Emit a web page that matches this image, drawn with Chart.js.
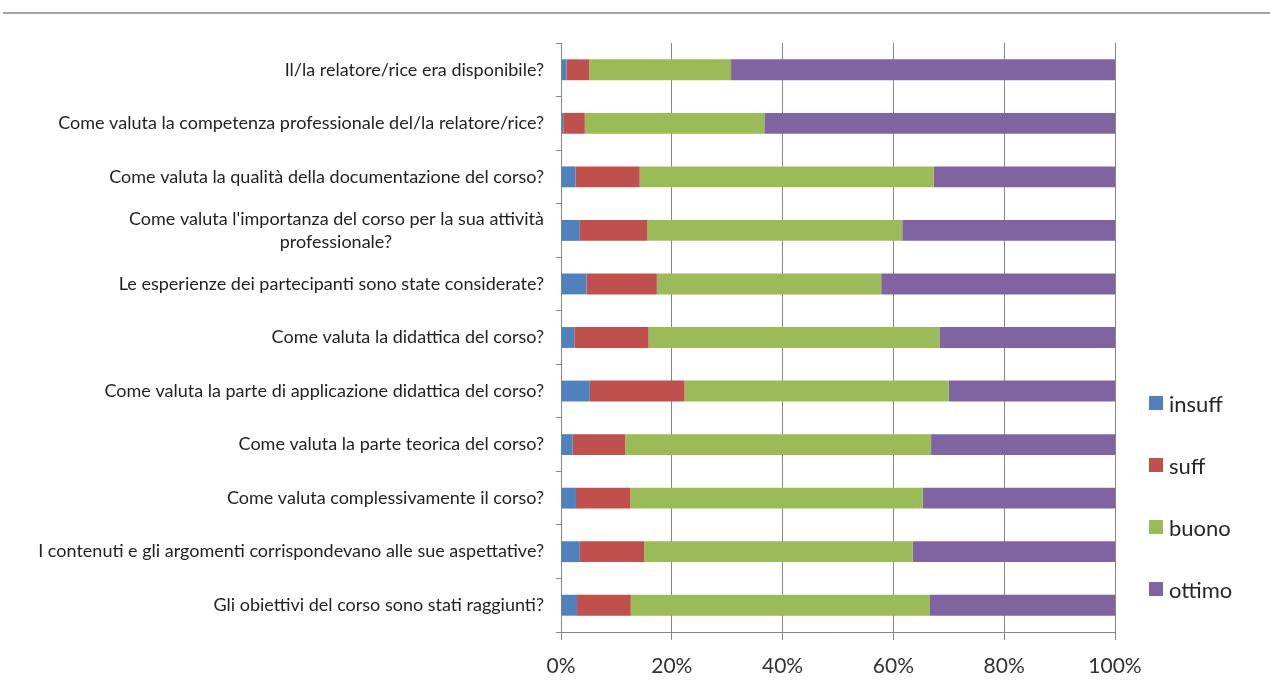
<!DOCTYPE html>
<html>
<head>
<meta charset="utf-8">
<script src="https://cdn.jsdelivr.net/npm/chart.js@4/dist/chart.umd.min.js"></script>
<style>
    html, body { margin: 0; padding: 0; background: #fff; }
    #wrap { position: relative; width: 1270px; height: 700px; overflow: hidden; }
    #topline { position: absolute; left: 3px; right: 0; top: 12px; height: 2px; background: #a6a6a6; }
    #legend { position: absolute; left: 1149px; top: 372px; font-family: Lato, sans-serif; font-size: 22px; color: #262626; }
    #legend .item { height: 62px; display: flex; align-items: center; }
    #legend .sw { width: 14px; height: 14px; margin-right: 6px; }
</style>
</head>
<body>
<div id="wrap">
    <div id="topline"></div>
    <canvas id="chart" width="1270" height="700"></canvas>
    <div id="legend"></div>
</div>
<script>
// Questions (top to bottom)
const questions = [
    "Il/la relatore/rice era disponibile?",
    "Come valuta la competenza professionale del/la relatore/rice?",
    "Come valuta la qualità della documentazione del corso?",
    ["Come valuta l'importanza del corso per la sua attività", "professionale?"],
    "Le esperienze dei partecipanti sono state considerate?",
    "Come valuta la didattica del corso?",
    "Come valuta la parte di applicazione didattica del corso?",
    "Come valuta la parte teorica del corso?",
    "Come valuta complessivamente il corso?",
    "I contenuti e gli argomenti corrispondevano alle sue aspettative?",
    "Gli obiettivi del corso sono stati raggiunti?"
];

// Percentages per rating
const insuff = [1.0, 0.4, 2.6, 3.4, 4.6, 2.4, 5.2, 2.1, 2.7, 3.4, 2.9];
const suff   = [4.1, 3.9, 11.6, 12.2, 12.7, 13.4, 17.1, 9.5, 9.8, 11.6, 9.7];
const buono  = [25.6, 32.4, 53.1, 46.0, 40.5, 52.5, 47.7, 55.2, 52.8, 48.5, 54.0];
const ottimo = [69.3, 63.3, 32.7, 38.4, 42.2, 31.7, 30.0, 33.2, 34.7, 36.5, 33.4];

const seriesNames = ['insuff', 'suff', 'buono', 'ottimo'];
const seriesColors = ['#4f81bd', '#c0504d', '#9bbb59', '#8064a2'];
const xTicks = [0, 20, 40, 60, 80, 100];

const labelFont = '18px Lato';
const gridColor = '#868686';

// centre the second line of a two-line label under the first (labels are right aligned)
function centreLines(label) {
    if (!Array.isArray(label)) return label;
    const ctx = document.createElement('canvas').getContext('2d');
    ctx.font = labelFont;
    const w1 = ctx.measureText(label[0]).width;
    let second = label[1];
    const sp = ctx.measureText('\u00a0').width;
    const n = Math.round((w1 - ctx.measureText(second).width) / 2 / sp);
    second = second + '\u00a0'.repeat(Math.max(0, n));
    return [label[0], second];
}

const datasets = [insuff, suff, buono, ottimo].map((vals, i) => ({
    label: seriesNames[i],
    data: vals,
    backgroundColor: seriesColors[i],
    borderWidth: 0,
    barPercentage: 0.39,
    categoryPercentage: 1.0
}));

new Chart(document.getElementById('chart').getContext('2d'), {
    type: 'bar',
    data: { labels: questions.map(centreLines), datasets },
    options: {
        indexAxis: 'y',
        responsive: false,
        animation: false,
        layout: { padding: { top: 43, right: 155, left: 0, bottom: 0 } },
        plugins: {
            legend: { display: false },
            tooltip: { enabled: false }
        },
        scales: {
            x: {
                stacked: true,
                min: 0,
                max: 100,
                afterBuildTicks: (scale) => { scale.ticks = xTicks.map(v => ({ value: v })); },
                afterFit: (scale) => { scale.height = 68; },
                grid: { color: gridColor, tickLength: 8, lineWidth: 1 },
                border: { color: gridColor },
                ticks: {
                    color: '#333',
                    font: { family: 'Lato', size: 21 },
                    padding: 14,
                    callback: (v) => v + '%'
                }
            },
            y: {
                stacked: true,
                afterFit: (scale) => { scale.width = 561; },
                grid: { drawOnChartArea: false, color: gridColor, tickLength: 5, offset: true },
                border: { color: gridColor },
                ticks: {
                    color: '#1f1f1f',
                    font: { family: 'Lato', size: 18, lineHeight: 1.3 },
                    padding: 12,
                    autoSkip: false
                }
            }
        }
    }
});

// legend
const legendEl = document.getElementById('legend');
seriesNames.forEach((name, i) => {
    const item = document.createElement('div');
    item.className = 'item';
    item.innerHTML = `<span class="sw" style="background:${seriesColors[i]}"></span><span>${name}</span>`;
    legendEl.appendChild(item);
});
</script>
</body>
</html>
